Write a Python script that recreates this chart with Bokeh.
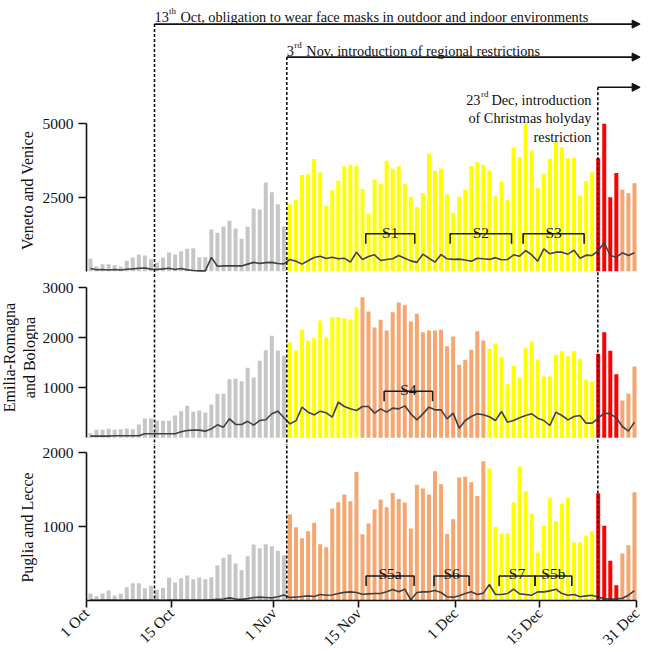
import math
from bokeh.plotting import figure
from bokeh.layouts import column, row
from bokeh.models import FixedTicker, Label, Span, Arrow, NormalHead, Range1d
from bokeh.embed import file_html
from bokeh.resources import INLINE

# ---------------- data ----------------
tick_days = [0, 14, 31, 45, 61, 75, 91]
tick_labels = ["1 Oct", "15 Oct", "1 Nov", "15 Nov", "1 Dec", "15 Dec", "31 Dec"]

veneto_cases = [419, 158, 238, 238, 204, 158, 351, 464, 566, 532, 407, 283, 464, 633, 566, 679, 758, 781, 475, 475,
                1414, 1301, 1516, 1708, 1448, 1097, 1505, 2127, 2093, 3009, 2681, 2274, 1516,
                2270, 2415, 3260, 3285, 3810, 3345, 2200, 2745, 3065, 3550, 3608, 3568, 2785, 1947, 3115, 2968,
                3750, 3472, 3562, 2946, 2528, 2178, 2646, 3981, 3410, 3488, 2601, 1985, 2528, 2765, 3570, 3692,
                3602, 3415, 2540, 3040, 2415, 4196, 3878, 5000, 4094, 2816, 3302, 3811, 4405, 4207, 3828, 3850,
                2567, 3064, 3346,
                3833, 5000, 2510, 3335,
                2765, 2646, 2980]
veneto_line = [90, 50, 57, 40, 57, 40, 68, 79, 100, 110, 70, 57, 79, 100, 57, 90, 45, 23, 12, 12,
               470, 170, 180, 180, 180, 180, 240, 300, 260, 290, 300, 260, 250,
               397, 340, 239, 352, 465, 510, 430, 476, 420, 442, 306, 646, 397, 499, 555, 363, 397, 420,
               533, 442, 350, 300, 578, 440, 306, 567, 420, 400,
               410, 380, 340, 442, 420, 400, 460, 390, 397, 555, 510, 702, 555, 340, 759, 589, 646, 646,
               578, 714, 442, 544, 533, 702, 962, 533, 476, 623, 533, 623]
veneto_zones = ["grey"] * 33 + ["yellow"] * 51 + ["red"] * 4 + ["orange"] * 3

emilia_cases = [93, 160, 160, 180, 160, 173, 187, 173, 267, 387, 387, 347, 340, 340, 447, 533, 640, 520, 547, 507,
                667, 880, 880, 1173, 1180, 1133, 1400, 1207, 1540, 1753, 2040, 1747, 1640,
                1906, 1746, 2166, 1939, 1993, 2346, 2006, 2413, 2413, 2393, 2366, 2613,
                2813, 2526, 2206, 2359, 2146, 2513, 2706, 2653, 2326, 2479, 2113, 2146, 2146, 2159, 1833, 2026,
                1459, 1559, 1759, 2133, 1946,
                1779, 1879, 1613, 1073, 1439, 1199, 1799, 1926, 1559, 1226, 1226, 1659, 1733, 1633, 1733, 1579,
                1159, 1126,
                1679, 2113, 1739, 1273,
                746, 879, 1426]
emilia_line = [33, 33, 33, 33, 40, 40, 40, 40, 40, 80, 80, 80, 80, 80, 80, 120, 147, 153, 153, 133,
               180, 260, 213, 380, 267, 267, 330, 253, 347, 360, 480, 533, 400,
               279, 340, 613, 513, 459, 533, 500, 413, 713, 626, 579, 546, 626, 626, 493, 579, 513, 593,
               579, 639, 479, 359, 479, 613, 559, 559, 379, 493,
               193, 346, 426, 479, 460, 420, 346, 526, 313, 346, 400, 446, 479, 393, 346, 246, 513, 446,
               359, 426, 446, 293, 293, 393, 493, 479, 400, 226, 133, 313]
emilia_zones = ["grey"] * 33 + ["yellow"] * 12 + ["orange"] * 21 + ["yellow"] * 18 + ["red"] * 4 + ["orange"] * 3

puglia_cases = [95, 59, 95, 135, 68, 90, 180, 234, 234, 167, 198, 144, 171, 306, 243, 302, 338, 288, 311, 288,
                315, 473, 577, 622, 500, 410, 599, 757, 707, 761, 734, 671, 613,
                1161, 990, 842, 936, 1049, 761, 720, 1243, 1328, 1432, 1342, 1738, 896, 1040, 1229, 1364, 1261,
                1454, 1373, 1324, 973, 1563, 1513, 1432, 1747, 1571, 900, 1098, 1661, 1671, 1599, 1414, 1882,
                1784, 995, 905, 905, 1324, 1810, 1477, 1171, 648, 1013, 1387, 1071, 1310, 1387, 784, 784, 874, 936,
                1450, 1009, 536, 207,
                635, 748, 1464]
puglia_line = [5, 4, 5, 6, 5, 4, 5, 6, 5, 5, 6, 5, 4, 5, 6, 5, 5, 6, 5, 5,
               10, 15, 20, 35, 20, 15, 25, 40, 45, 40, 35, 50, 75,
               40, 45, 55, 63, 55, 81, 70, 75, 95, 110, 117, 108, 85, 90, 94, 94, 117, 150, 117, 153, 10,
               108, 117, 117, 135, 108, 50, 45, 63, 94, 117, 80, 100,
               216, 81, 81, 94, 153, 90, 81, 72, 117, 117, 130, 153, 94, 72, 81, 50, 63, 72, 45, 25, 18, 22,
               30, 72, 135]
puglia_zones = ["grey"] * 33 + ["orange"] * 33 + ["yellow"] * 18 + ["red"] * 4 + ["orange"] * 3

# ---------------- style ----------------
FONT = "Liberation Serif"
ZONE_COLORS = {"grey": "#C6C6C6", "yellow": "#FFFF00", "orange": "#F6A66E", "red": "#FF0000"}
INK = "#111111"
LINE_COL = "#404040"
BAR_OFFSET = 0.66
BAR_W = 0.66
FW = 556
LABEL_W = 38
LEFT = 48

x_range = Range1d(0, 91.99)

# event markers (day positions of the dashed lines)
events = [11.25, 33.14, 84.6]


def base_fig(fw, fh, xr, yr, left, right, xaxis=False, yaxis=False):
    p = figure(frame_width=fw, frame_height=fh, x_range=xr, y_range=yr,
               output_backend="svg", toolbar_location=None,
               x_axis_location="below" if xaxis else None,
               y_axis_location="left" if yaxis else None,
               min_border_left=left, min_border_right=right, min_border_top=0, min_border_bottom=0)
    p.outline_line_color = None
    p.grid.visible = False
    p.background_fill_color = "white"
    p.border_fill_color = "white"
    return p


def style_axis(ax):
    ax.major_tick_in = 0
    ax.minor_tick_line_color = None
    ax.axis_line_width = 1.6
    ax.axis_line_color = INK
    ax.major_tick_line_width = 1.6
    ax.major_tick_line_color = INK
    ax.major_label_text_font = FONT
    ax.major_label_text_font_size = "15.5px"
    ax.major_label_text_color = INK


def make_panel(cases, zones, line_vals, y0, y1, ticks, top, fh, xaxis):
    p = base_fig(FW, fh, x_range, Range1d(y0, y1), LEFT, 7, xaxis=xaxis, yaxis=True)
    xs = [i + BAR_OFFSET for i in range(len(cases))]
    cols = [ZONE_COLORS[z] for z in zones]
    p.vbar(x=xs, top=cases, bottom=0, width=BAR_W, fill_color=cols, line_color=None)
    p.line(xs, line_vals, line_color=LINE_COL, line_width=1.6)

    ya = p.yaxis[0]
    style_axis(ya)
    ya.ticker = FixedTicker(ticks=ticks)
    ya.bounds = (0, top)
    ya.major_tick_out = 8
    ya.major_label_standoff = 5
    if xaxis:
        xa = p.xaxis[0]
        style_axis(xa)
        xa.ticker = FixedTicker(ticks=tick_days)
        xa.major_label_overrides = {d: l for d, l in zip(tick_days, tick_labels)}
        xa.bounds = (0, 91)
        xa.major_label_orientation = math.pi / 4
        xa.major_tick_out = 7
        xa.major_label_standoff = 3
    return p


def add_label(p, x, y, text, size="15px", align="left", baseline="alphabetic", xo=0, yo=0, angle=0.0):
    p.add_layout(Label(x=x, y=y, text=text, text_font=FONT, text_font_size=size, text_color=INK,
                       text_align=align, text_baseline=baseline, x_offset=xo, y_offset=yo, angle=angle))


def add_brackets(p, specs, y_top, y_bot, y_text):
    for x0, x1, name in specs:
        p.line([x0, x0, x1, x1], [y_bot, y_top, y_top, y_bot], line_color="#1a1a1a", line_width=1.6)
        add_label(p, (x0 + x1) / 2, y_text, name, size="15.5px", align="center")


def add_dashes(p):
    for e in events:
        p.add_layout(Span(location=e, dimension="height", line_color=INK, line_width=1.6, line_dash="3 2"))


# ---------------- panel 1 (with the event annotations above the bars) ----------------
P1_BOTTOM = -281.5
p1 = make_panel(veneto_cases, veneto_zones, veneto_line, P1_BOTTOM, 9183, [2500, 5000], 5000, 279, False)
arrow_y = [8382, 7263, 6238]
for e, ay in zip(events, arrow_y):
    p1.segment(x0=[e], y0=[ay], x1=[e], y1=[P1_BOTTOM], line_color=INK, line_width=1.6, line_dash="3 2")
    p1.add_layout(Arrow(x_start=e, y_start=ay, x_end=91.6, y_end=ay, line_color=INK, line_width=1.6,
                        end=NormalHead(size=8, fill_color=INK, line_color=INK, line_width=1)))
add_label(p1, events[0], 8623, "13", size="14.3px")
add_label(p1, events[0], 8623, "th", size="9px", xo=14.5, yo=6)
add_label(p1, events[0], 8623, "Oct, obligation to wear face masks in outdoor and indoor environments",
          size="14.3px", xo=26)
add_label(p1, events[1], 7473, "3", size="14.3px")
add_label(p1, events[1], 7473, "rd", size="9px", xo=7.5, yo=6)
add_label(p1, events[1], 7473, "Nov, introduction of regional restrictions", size="14.3px", xo=19.5)
tx3 = 83.55
add_label(p1, tx3, 5818, "Dec, introduction", size="14.3px", align="right")
add_label(p1, tx3, 5818, "rd", size="9px", align="right", xo=-103, yo=6)
add_label(p1, tx3, 5818, "23", size="14.3px", align="right", xo=-111)
add_label(p1, tx3, 5187, "of Christmas holyday", size="14.3px", align="right")
add_label(p1, tx3, 4556, "restriction", size="14.3px", align="right")
add_brackets(p1, [(46.2, 54.3, "S1"), (60.16, 70.32, "S2"), (72.24, 82.33, "S3")], 1269, 929, 1323)

# ---------------- panel 2 ----------------
p2 = make_panel(emilia_cases, emilia_zones, emilia_line, -154, 3166, [1000, 2000, 3000], 3000, 166, False)
add_dashes(p2)
add_brackets(p2, [(49.24, 57.25, "S4")], 932, 732, 972)

# ---------------- panel 3 ----------------
p3 = make_panel(puglia_cases, puglia_zones, puglia_line, 0, 2095, [1000, 2000], 2000, 155, True)
add_dashes(p3)
add_brackets(p3, [(46.26, 54.2, "S5a"), (57.5, 63.3, "S6"), (68.27, 74.2, "S7"), (74.2, 80.3, "S5b")], 332, 197, 365)

# ---------------- rotated panel titles (pixel strip on the left) ----------------
lab = base_fig(LABEL_W, 652, Range1d(0, LABEL_W), Range1d(652, 0), 0, 0)
add_label(lab, 26.5, 190, "Veneto and Venice", size="16px", align="center", baseline="middle", angle=math.pi / 2)
add_label(lab, 8.5, 357, "Emilia-Romagna", size="16px", align="center", baseline="middle", angle=math.pi / 2)
add_label(lab, 29.0, 357, "and Bologna", size="16px", align="center", baseline="middle", angle=math.pi / 2)
add_label(lab, 27.0, 527, "Puglia and Lecce", size="16px", align="center", baseline="middle", angle=math.pi / 2)

layout = row(lab, column(p1, p2, p3, spacing=0), spacing=0)
open("out.html", "w").write(file_html(layout, INLINE))
